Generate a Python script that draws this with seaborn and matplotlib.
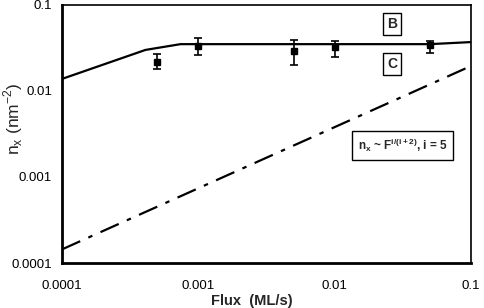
import numpy as np
import pandas as pd
import seaborn as sns
import matplotlib.pyplot as plt

# measured island density vs flux
flux_data = [0.0005, 0.001, 0.005, 0.01, 0.05]
nx_data = [0.022, 0.0334, 0.029, 0.0325, 0.034]
nx_low = [0.018, 0.026, 0.020, 0.025, 0.0277]
nx_high = [0.027, 0.041, 0.039, 0.038, 0.038]

# model curve (solid)
flux_model = [0.0001, 0.00041, 0.00074, 0.01, 0.05, 0.1]
nx_model = [0.0138, 0.030, 0.035, 0.035, 0.035, 0.037]

# power law n_x ~ F^(5/7) (dash-dot)
flux_power = [0.0001, 0.1]
nx_power = [0.000144, 0.0195]

x_ticks = [0.0001, 0.001, 0.01, 0.1]
x_tick_labels = ['0.0001', '0.001', '0.01', '0.1']
y_ticks = [0.0001, 0.001, 0.01, 0.1]
y_tick_labels = ['0.0001', '0.001', '0.01', '0.1']

sns.set_style("white")
plt.rcParams['font.family'] = ['Liberation Sans', 'DejaVu Sans']

fig = plt.figure(figsize=(4.84, 3.08), dpi=100)
ax = fig.add_axes([0.128, 0.146, 0.845, 0.838])

model_df = pd.DataFrame({'flux': flux_model, 'nx': nx_model})
power_df = pd.DataFrame({'flux': flux_power, 'nx': nx_power})
sns.lineplot(data=model_df, x='flux', y='nx', ax=ax, color='black', linewidth=1.6)
sns.lineplot(data=power_df, x='flux', y='nx', ax=ax, color='black', linewidth=1.6,
             dashes=False, linestyle=(0, (9, 4, 2, 4)))

yerr = [np.array(nx_data) - np.array(nx_low), np.array(nx_high) - np.array(nx_data)]
ax.errorbar(flux_data, nx_data, yerr=yerr, fmt='s', color='black', markersize=4.5,
            capsize=3, elinewidth=1.2, capthick=1.2)

ax.set_xscale('log')
ax.set_yscale('log')
ax.set_xlim(0.0001, 0.1)
ax.set_ylim(0.0001, 0.1)
ax.set_xticks(x_ticks)
ax.set_xticklabels(x_tick_labels)
ax.set_yticks(y_ticks)
ax.set_yticklabels(y_tick_labels)
ax.minorticks_off()
ax.tick_params(axis='both', direction='out', length=4, width=1.5, labelsize=9.5,
               colors='black', pad=3)
ax.tick_params(axis='x', pad=8)

for side in ['left', 'bottom']:
    ax.spines[side].set_linewidth(2.0)
for side in ['top', 'right']:
    ax.spines[side].set_linewidth(1.2)
for s in ax.spines.values():
    s.set_color('black')

ax.set_xlabel('Flux  (ML/s)', fontsize=10.5, fontweight='bold')
ax.xaxis.set_label_coords(0.465, -0.12)
ax.set_ylabel(r'n$_\mathregular{x}$ (nm$^\mathregular{-2}$)', fontsize=12.5)
ax.yaxis.set_label_coords(-0.09, 0.56)

box = dict(boxstyle='square,pad=0.3', facecolor='white', edgecolor='black', linewidth=1.0)
ax.text(0.807, 0.926, 'B', transform=ax.transAxes,
        ha='center', va='center', fontsize=10, fontweight='bold', bbox=box)
ax.text(0.807, 0.771, 'C', transform=ax.transAxes,
        ha='center', va='center', fontsize=10, fontweight='bold', bbox=box)
ax.text(0.833, 0.457, r'n$_\mathregular{x}$ ~ F$^\mathregular{i/(i+2)}$, i = 5',
        transform=ax.transAxes, ha='center', va='center', fontsize=8.5,
        fontweight='bold', bbox=dict(boxstyle='square,pad=0.5', facecolor='white',
                                     edgecolor='black', linewidth=1.0))

fig.savefig('out.png', dpi=100)
